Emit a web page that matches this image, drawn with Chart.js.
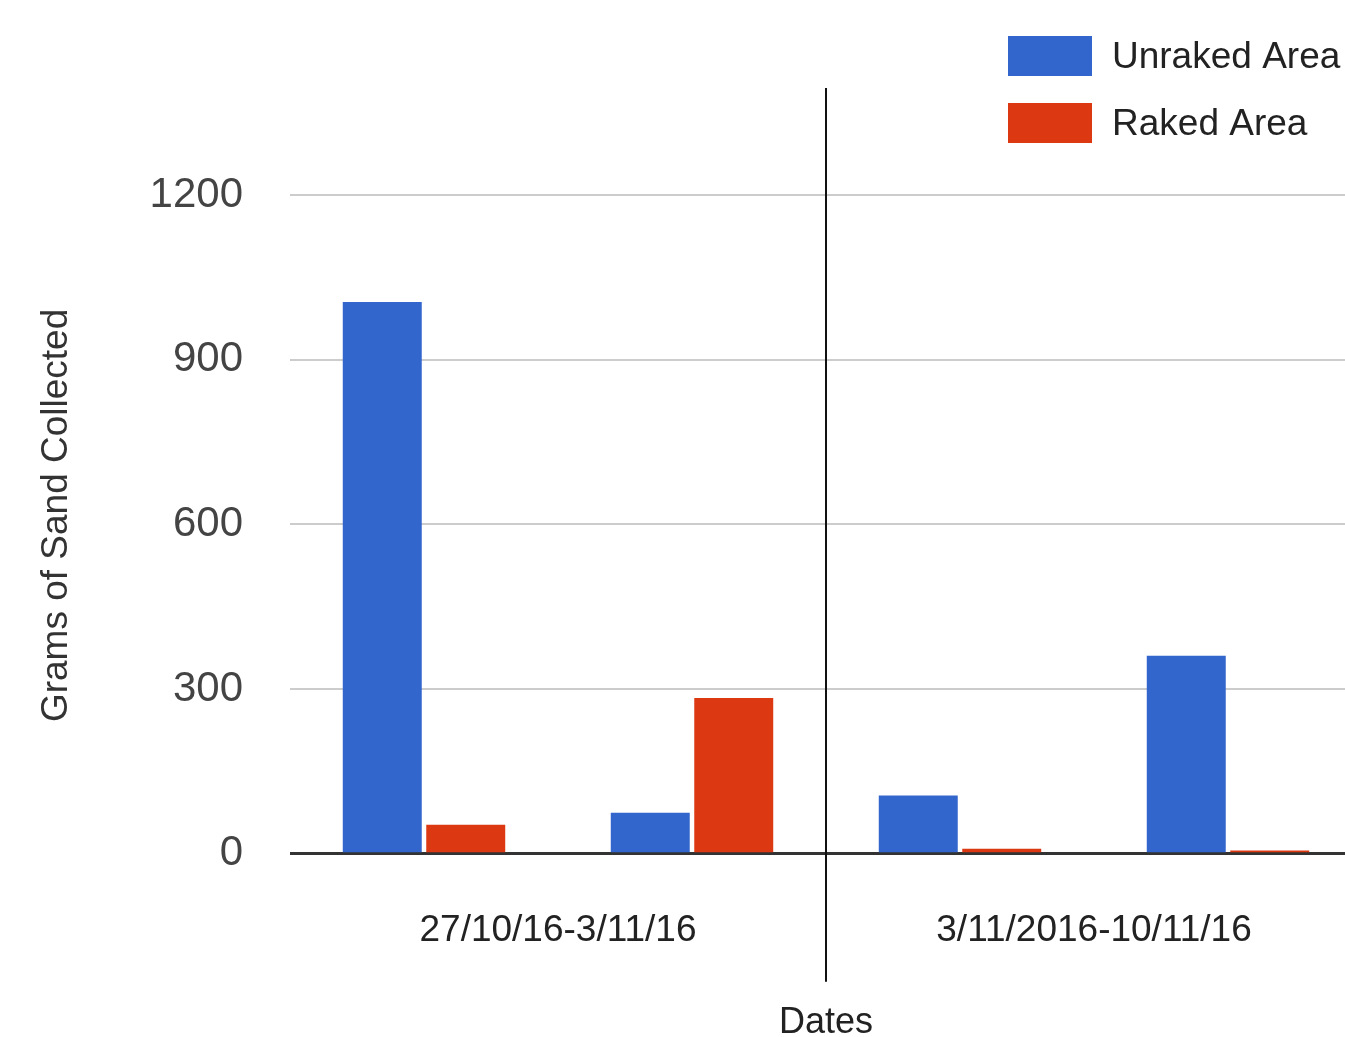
<!DOCTYPE html>
<html>
<head>
<meta charset="utf-8">
<title>Grams of Sand Collected</title>
<script src="https://cdn.jsdelivr.net/npm/chart.js@4/dist/chart.umd.min.js"></script>
<style>
  html, body { margin: 0; padding: 0; background: #fff; overflow: hidden; }
  #wrap { width: 1364px; height: 1037px; }
</style>
</head>
<body>
<div id="wrap"><canvas id="c" width="1364" height="1037"></canvas></div>
<script>
// Collection periods shown under the axis (two samples per period)
const dateRanges = ['27/10/16-3/11/16', '3/11/2016-10/11/16'];
const samples = ['27/10/16-3/11/16 #1', '27/10/16-3/11/16 #2', '3/11/2016-10/11/16 #1', '3/11/2016-10/11/16 #2'];

// Grams of sand collected per sample
const unraked = [1005, 75, 106, 361];
const raked = [53, 284, 9, 6];

const yTicks = [0, 300, 600, 900, 1200];
const yTitle = 'Grams of Sand Collected';

const FONT = '"Liberation Sans", Arial, Helvetica, sans-serif';

// Vertical-box legend in the top right corner
const boxLegend = {
  id: 'boxLegend',
  afterDraw(chart) {
    const ctx = chart.ctx;
    ctx.save();
    ctx.font = '37px ' + FONT;
    ctx.textBaseline = 'middle';
    ctx.textAlign = 'left';
    chart.data.datasets.forEach((ds, i) => {
      const top = 36 + i * 67;
      ctx.fillStyle = ds.backgroundColor;
      ctx.fillRect(1008, top, 84, 40);
      ctx.fillStyle = '#222';
      ctx.fillText(ds.label, 1112, top + 22);
    });
    ctx.restore();
  }
};

// Rotated y-axis title, centred on the labelled part of the value axis
const valueTitle = {
  id: 'valueTitle',
  afterDraw(chart) {
    const ys = chart.scales.y;
    const mid = (ys.getPixelForValue(yTicks[0]) + ys.getPixelForValue(yTicks[yTicks.length - 1])) / 2 - 9;
    const ctx = chart.ctx;
    ctx.save();
    ctx.translate(57, mid);
    ctx.rotate(-Math.PI / 2);
    ctx.font = '37px ' + FONT;
    ctx.fillStyle = '#333';
    ctx.textAlign = 'center';
    ctx.textBaseline = 'middle';
    ctx.fillText(yTitle, 0, 0);
    ctx.restore();
  }
};

// Divider line between the two collection periods
const periodDivider = {
  id: 'periodDivider',
  afterDatasetsDraw(chart) {
    const xs = chart.scales.x;
    const x = Math.round((xs.getPixelForTick(1) + xs.getPixelForTick(2)) / 2);
    const area = chart.chartArea;
    const ctx = chart.ctx;
    ctx.save();
    ctx.strokeStyle = '#111';
    ctx.lineWidth = 2;
    ctx.beginPath();
    ctx.moveTo(x, area.top);
    ctx.lineTo(x, area.bottom + 128);
    ctx.stroke();
    ctx.restore();
  }
};

new Chart(document.getElementById('c'), {
  type: 'bar',
  data: {
    labels: samples,
    datasets: [
      { label: 'Unraked Area', data: unraked, backgroundColor: '#3366cc' },
      { label: 'Raked Area', data: raked, backgroundColor: '#dc3912' }
    ]
  },
  options: {
    responsive: false,
    animation: false,
    categoryPercentage: 0.623,
    barPercentage: 0.946,
    layout: { padding: { top: 88, left: 35, right: 2, bottom: 0 } },
    plugins: {
      legend: { display: false },
      tooltip: { enabled: false }
    },
    scales: {
      x: {
        display: false,
        offset: true,
        grid: { display: false }
      },
      x2: {
        type: 'category',
        labels: dateRanges,
        position: 'bottom',
        offset: true,
        grid: { display: false, drawTicks: false },
        border: { display: false },
        ticks: {
          padding: 55,
          color: '#222',
          autoSkip: false,
          maxRotation: 0,
          font: { family: FONT, size: 37 }
        },
        title: {
          display: true,
          text: 'Dates',
          color: '#222',
          font: { family: FONT, size: 36, lineHeight: 0.8 },
          padding: { top: 0, bottom: 0 }
        }
      },
      y: {
        min: 0,
        max: 1395,
        afterBuildTicks(scale) {
          scale.ticks = yTicks.map(v => ({ value: v }));
        },
        afterFit(scale) {
          scale.width = 255;
        },
        grid: {
          drawTicks: false,
          color: c => (c.tick && c.tick.value === 0 ? '#333' : '#cccccc'),
          lineWidth: c => (c.tick && c.tick.value === 0 ? 3 : 2)
        },
        border: { display: false },
        ticks: {
          padding: 47,
          color: '#444',
          font: { family: FONT, size: 42 },
          callback: v => String(v)
        },
        title: { display: false }
      }
    }
  },
  plugins: [periodDivider, valueTitle, boxLegend]
});
</script>
</body>
</html>
